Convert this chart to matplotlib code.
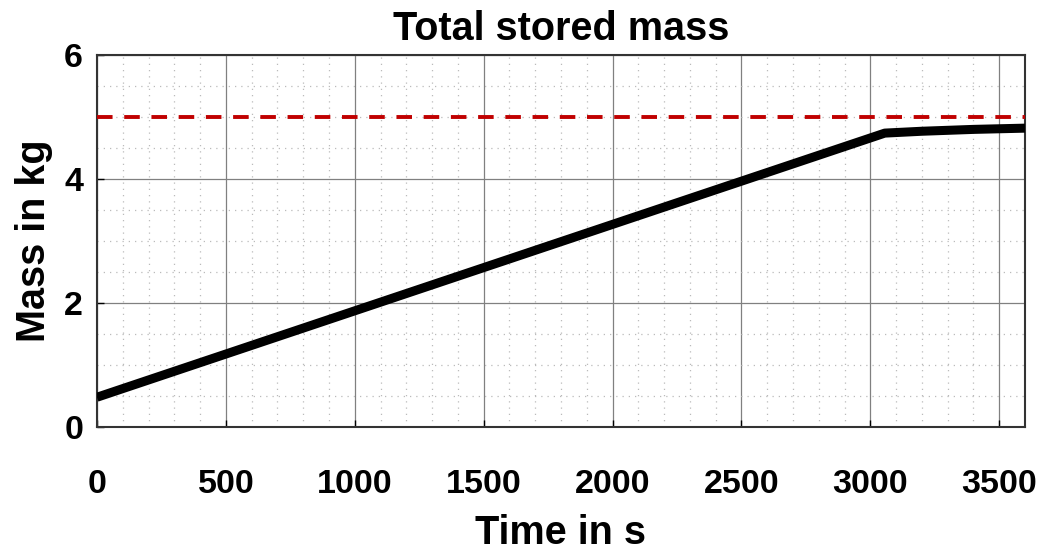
import matplotlib.pyplot as plt
from matplotlib.ticker import MultipleLocator

plt.rcParams['font.family'] = ['Liberation Sans', 'DejaVu Sans']
plt.rcParams['font.weight'] = 'bold'

# stored mass over time
time_s = [0, 3056, 3200, 3400, 3600]
mass_kg = [0.48, 4.74, 4.77, 4.80, 4.82]

# storage capacity
capacity_kg = 5.0

xticks = [0, 500, 1000, 1500, 2000, 2500, 3000, 3500]
yticks = [0, 2, 4, 6]

fig = plt.figure(figsize=(10.38, 5.52), dpi=100)
ax = fig.add_axes([0.0934, 0.2264, 0.8941, 0.6740])

ax.plot(time_s, mass_kg, color='black', lw=6.5, solid_capstyle='butt', zorder=3)
ax.axhline(capacity_kg, color='#c00000', lw=2.8, ls=(0, (4, 3)), zorder=3)

ax.set_xlim(0, 3600)
ax.set_ylim(0, 6)
ax.set_xticks(xticks)
ax.set_yticks(yticks)
ax.xaxis.set_minor_locator(MultipleLocator(100))
ax.yaxis.set_minor_locator(MultipleLocator(0.5))

ax.grid(which='major', color='#808080', lw=0.9, ls='-')
ax.grid(which='minor', color='#bbbbbb', lw=0.9, ls=(0, (1, 4)))
ax.set_axisbelow(True)

ax.tick_params(which='both', direction='in', length=5, width=1, labelsize=24.5)
ax.tick_params(axis='x', pad=30)
ax.tick_params(axis='y', pad=10)
ax.tick_params(which='minor', length=0)
for s in ax.spines.values():
    s.set_linewidth(1.5)
    s.set_color('#333333')

ax.set_title('Total stored mass', fontsize=28.5, fontweight='bold', pad=11)
ax.set_xlabel('Time in s', fontsize=28.5, fontweight='bold', labelpad=10)
ax.set_ylabel('Mass in kg', fontsize=28.5, fontweight='bold', labelpad=8)

fig.savefig('out.png', dpi=100)
